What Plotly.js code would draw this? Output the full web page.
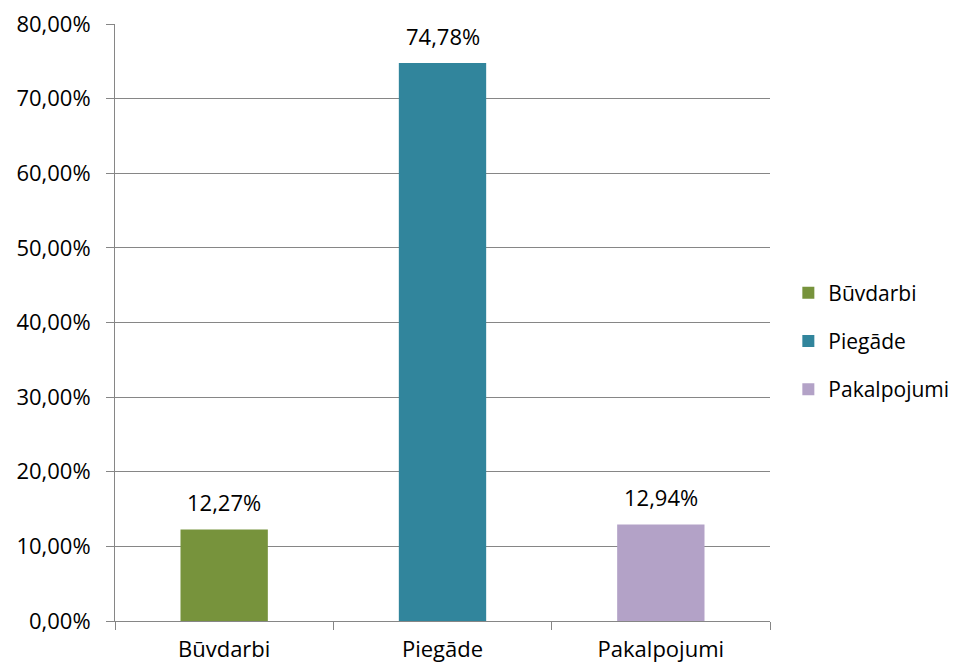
<!DOCTYPE html>
<html>
<head>
<meta charset="utf-8">
<script src="https://cdn.plot.ly/plotly-3.0.1.min.js"></script>
<style>html,body{margin:0;padding:0;background:#fff;}#chart{width:968px;height:666px;}</style>
</head>
<body>
<div id="chart"></div>
<script>
const categories = ["Būvdarbi", "Piegāde", "Pakalpojumi"];
const values = [12.27, 74.78, 12.94];
const valueLabels = ["12,27%", "74,78%", "12,94%"];
const colors = ["#77933C", "#31859C", "#B3A2C7"];
const yTickVals = [0, 10, 20, 30, 40, 50, 60, 70, 80];
const yTickLabels = ["0,00%", "10,00%", "20,00%", "30,00%", "40,00%", "50,00%", "60,00%", "70,00%", "80,00%"];

const font = {family: "Open Sans, sans-serif", size: 22, color: "#000000"};
const legendFont = {family: "Open Sans, sans-serif", size: 21, color: "#000000"};
const gridColor = "#868686";

const traces = categories.map((c, i) => ({
  type: "bar",
  name: c,
  x: [c],
  y: [values[i]],
  width: 0.4,
  marker: {color: colors[i]},
  legendgroup: "g" + i,
  hoverinfo: "skip"
}));

const annotations = categories.map((c, i) => ({
  x: c,
  y: values[i],
  xref: "x",
  yref: "y",
  text: valueLabels[i],
  showarrow: false,
  yanchor: "bottom",
  yshift: 10,
  font: font
}));

const layout = {
  width: 968,
  height: 666,
  margin: {l: 115, r: 198, t: 24, b: 45},
  barmode: "overlay",
  paper_bgcolor: "#ffffff",
  plot_bgcolor: "#ffffff",
  font: font,
  showlegend: true,
  annotations: annotations,
  legend: {
    x: 1.028, y: 0.469, xanchor: "left", yanchor: "middle",
    font: legendFont,
    traceorder: "grouped",
    tracegroupgap: 18,
    itemwidth: 30
  },
  xaxis: {
    categoryorder: "array",
    categoryarray: categories,
    showline: true,
    linecolor: gridColor,
    linewidth: 1,
    ticks: "outside",
    tickson: "boundaries",
    ticklen: 8,
    tickcolor: gridColor,
    showgrid: false,
    tickfont: font,
    ticklabelstandoff: 9,
    zeroline: false
  },
  yaxis: {
    range: [0, 80],
    tickmode: "array",
    tickvals: yTickVals,
    ticktext: yTickLabels,
    showline: true,
    linecolor: gridColor,
    linewidth: 1,
    ticks: "outside",
    ticklen: 8,
    tickcolor: gridColor,
    showgrid: true,
    gridcolor: gridColor,
    gridwidth: 1,
    zeroline: false,
    tickfont: font,
    ticklabelstandoff: 11
  }
};

Plotly.newPlot("chart", traces, layout, {displayModeBar: false, staticPlot: true});
</script>
</body>
</html>
